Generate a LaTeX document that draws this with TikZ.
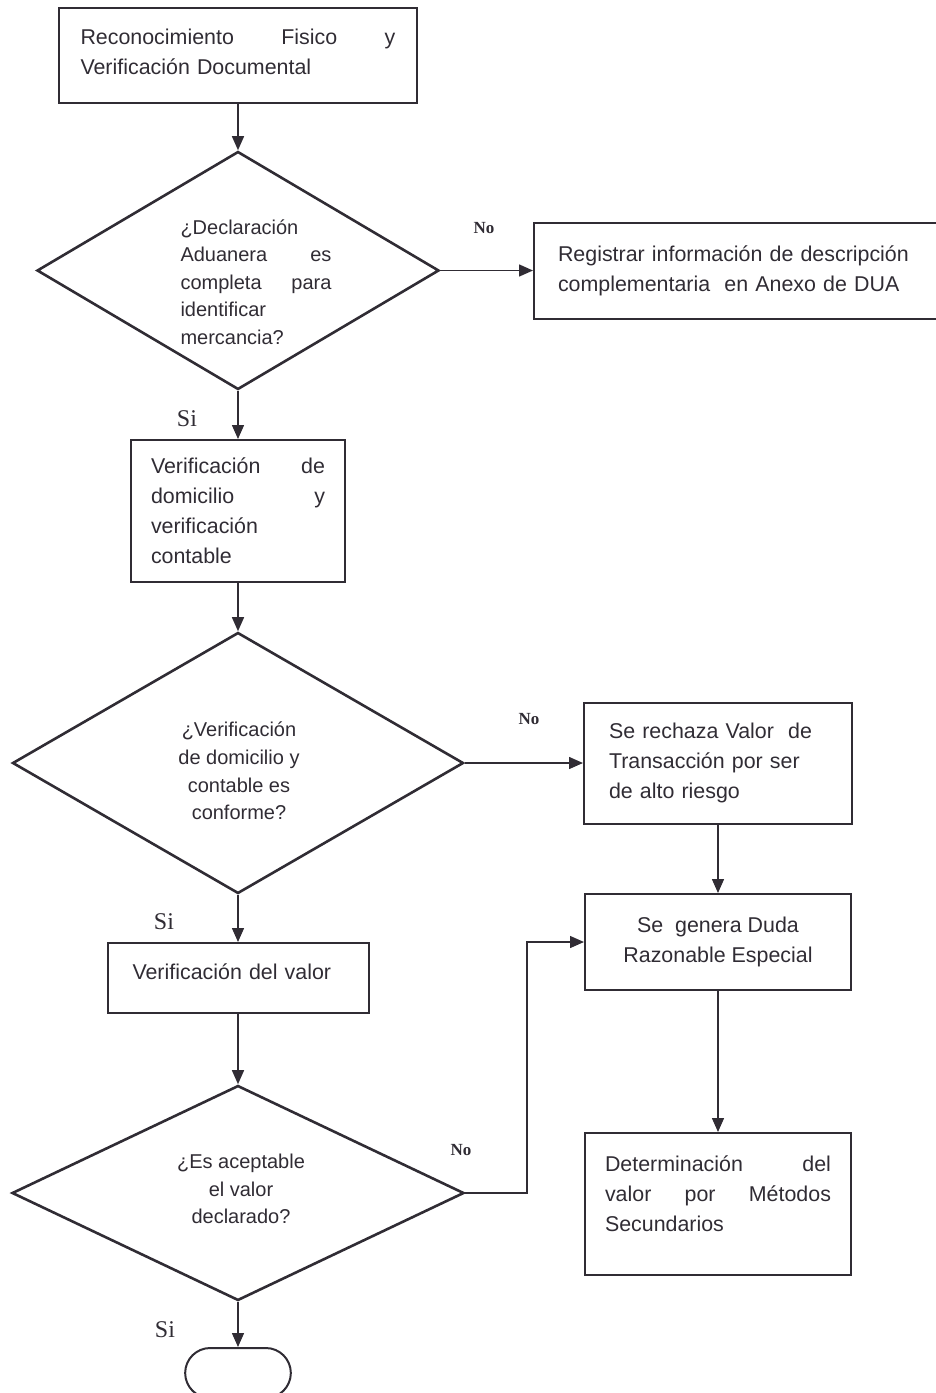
\documentclass[tikz,border=0pt]{standalone}
\usepackage{fontspec}
\setmainfont{Liberation Sans}
\newfontfamily\serifl{Liberation Serif}
\usetikzlibrary{shapes.geometric,shapes.misc,arrows.meta}
\definecolor{ink}{RGB}{48,44,52}
\begin{document}
\begin{tikzpicture}[x=0.5pt,y=-0.5pt,
    box/.style={draw=ink,line width=1pt,text=ink,inner sep=0pt,font=\fontsize{10.7}{15}\selectfont},
    rombo/.style={diamond,draw=ink,line width=1.3pt,inner sep=0pt},
    qtext/.style={text=ink,inner sep=0pt,font=\fontsize{10}{13.8}\selectfont},
    flecha/.style={draw=ink,line width=0.75pt,-{Triangle[length=7pt,width=6pt]}},
    etiq/.style={text=ink,inner sep=0pt,font=\serifl\fontsize{12}{12}\selectfont},
    etiqno/.style={text=ink,inner sep=0pt,font=\serifl\bfseries\fontsize{8.5}{10}\selectfont}]
    \useasboundingbox (0,0) rectangle (936,1393);
    % columna izquierda
    \node[box,minimum width=179pt,minimum height=47.5pt,text width=157.5pt] (b1) at (238,55.5) {Reconocimiento\hfill Fisico\hfill y\\Verificación Documental\par\vspace{4pt}};
    \node[rombo,minimum width=201pt,minimum height=119pt] (d1) at (238,270.5) {};
    \node[qtext,text width=75.5pt] (d1t) at (256,282) {¿Declaración\\Aduanera\hfill es\\completa\hfill para\\identificar\\mercancia?};
    \node[box,minimum width=107pt,minimum height=71pt,text width=87pt] (b3) at (238,511) {Verificación\hfill de\\domicilio\hfill y\\verificación\\contable};
    \node[rombo,minimum width=225.5pt,minimum height=130.5pt] (d2) at (238,763) {};
    \node[qtext,align=center] (d2t) at (239,771) {¿Verificación\\de domicilio y\\contable es\\conforme?};
    \node[box,minimum width=130.5pt,minimum height=35pt,text width=105.5pt] (b6) at (238,978) {Verificación del valor\par\vspace{6pt}};
    \node[rombo,minimum width=226pt,minimum height=107.5pt] (d3) at (238,1193) {};
    \node[qtext,align=center] (d3t) at (241,1189) {¿Es aceptable\\el valor\\declarado?};
    \node[rounded rectangle,draw=ink,line width=1pt,minimum width=59.5pt,minimum height=25pt] (fin) at (238,1373) {};
    % columna derecha
    \node[box,minimum height=48pt,inner xsep=12pt,text width=210pt,align=left] (b2) at (768,270.5) {Registrar información de descripción\\complementaria\ \ en Anexo de DUA};
    \node[box,minimum width=134pt,minimum height=60.5pt,text width=109pt,align=left] (b4) at (718,763) {Se rechaza Valor\ \ de\\Transacción por ser\\de alto riesgo};
    \node[box,minimum width=133pt,minimum height=48pt,align=center] (b5) at (718,942) {Se\ \ genera Duda\\Razonable Especial};
    \node[box,minimum width=133pt,minimum height=71pt,text width=113pt] (b7) at (718,1204) {Determinación\hfill del\\valor\hfill por\hfill Métodos\\Secundarios\par\vspace{10pt}};
    \coordinate (codo) at (527,1193);
    % conectores
    \draw[flecha] (b1.south) -- (d1.north);
    \draw[flecha] (d1.east) -- (d1.east -| b2.west);
    \draw[flecha] (d1.south) -- (b3.north);
    \draw[flecha] (b3.south) -- (d2.north);
    \draw[flecha] (d2.east) -- (d2.east -| b4.west);
    \draw[flecha] (d2.south) -- (b6.north);
    \draw[flecha] (b4.south) -- (b5.north);
    \draw[flecha] (b6.south) -- (d3.north);
    \draw[flecha] (d3.east) -- (codo) |- (b5.west);
    \draw[flecha] (b5.south) -- (b7.north);
    \draw[flecha] (d3.south) -- (fin.north);
    % etiquetas
    \node[etiqno] (no1) at (484,228) {No};
    \node[etiqno] (no2) at (529,719) {No};
    \node[etiqno] (no3) at (461,1150) {No};
    \node[etiq] (si1) at (187,419) {Si};
    \node[etiq] (si2) at (164,922) {Si};
    \node[etiq] (si3) at (165,1330) {Si};
\end{tikzpicture}
\end{document}
